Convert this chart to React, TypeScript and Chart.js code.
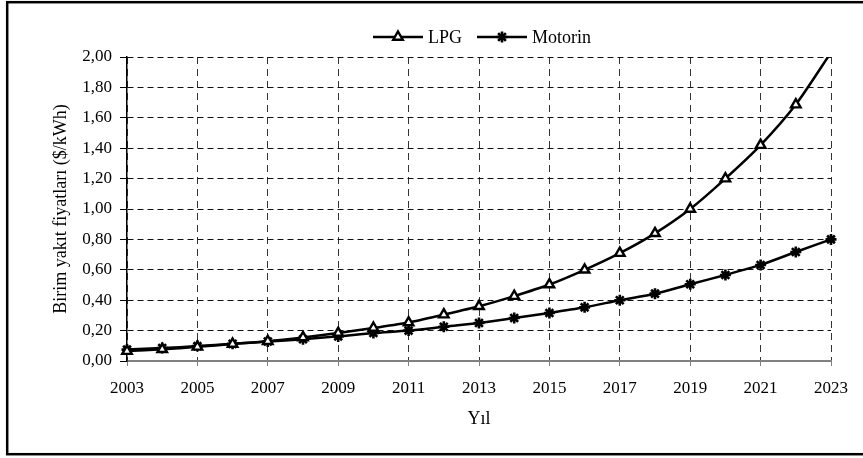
import React, { useEffect, useRef } from 'react';
import { Chart, registerables } from 'chart.js';

Chart.register(...registerables);

const years = [2003, 2004, 2005, 2006, 2007, 2008, 2009, 2010, 2011, 2012, 2013, 2014, 2015, 2016, 2017, 2018, 2019, 2020, 2021, 2022, 2023];
const lpg = [0.065, 0.077, 0.093, 0.112, 0.13, 0.155, 0.184, 0.217, 0.253, 0.305, 0.36, 0.427, 0.503, 0.6, 0.71, 0.84, 1.0, 1.2, 1.42, 1.687, 2.03];
const motorin = [0.075, 0.085, 0.098, 0.113, 0.128, 0.143, 0.162, 0.184, 0.2, 0.225, 0.25, 0.283, 0.316, 0.353, 0.4, 0.443, 0.505, 0.566, 0.632, 0.717, 0.8];
const seriesNames = ['LPG', 'Motorin'];
const xTitle = 'Yıl';
const yTitle = 'Birim yakıt fiyatları ($/kWh)';
const yMin = 0;
const yMax = 2;
const yStep = 0.2;
const xStep = 2;

const FONT = "'Liberation Serif', 'Times New Roman', serif";

function drawMarker(ctx: CanvasRenderingContext2D, style: string, x: number, y: number, r: number, bw: number) {
  ctx.save();
  ctx.strokeStyle = '#000';
  ctx.lineWidth = bw;
  if (style === 'triangle') {
    ctx.fillStyle = '#fff';
    ctx.beginPath();
    ctx.moveTo(x, y - r);
    ctx.lineTo(x + r * 0.866, y + r / 2);
    ctx.lineTo(x - r * 0.866, y + r / 2);
    ctx.closePath();
    ctx.fill();
    ctx.stroke();
  } else {
    const d = r * 0.7071;
    ctx.beginPath();
    ctx.moveTo(x - r, y); ctx.lineTo(x + r, y);
    ctx.moveTo(x, y - r); ctx.lineTo(x, y + r);
    ctx.moveTo(x - d, y - d); ctx.lineTo(x + d, y + d);
    ctx.moveTo(x - d, y + d); ctx.lineTo(x + d, y - d);
    ctx.stroke();
  }
  ctx.restore();
}

const framePlugin = {
  id: 'frame',
  beforeDraw(chart: any) {
    const ctx = chart.ctx;
    ctx.save();
    ctx.fillStyle = '#fff';
    ctx.fillRect(0, 0, chart.width, chart.height);
    ctx.restore();
  },
  afterDraw(chart: any) {
    const ctx = chart.ctx;
    ctx.save();
    ctx.strokeStyle = '#000';
    ctx.lineWidth = 2.5;
    ctx.strokeRect(7.2, 2.2, 880, 452);
    // legend
    ctx.font = `18px ${FONT}`;
    ctx.textBaseline = 'middle';
    ctx.textAlign = 'left';
    const cy = 37;
    const lineLen = 50;
    const gapText = 5;
    const gapItem = 15;
    const items = chart.data.datasets.map((ds: any) => ({ label: ds.label, style: ds.pointStyle, r: ds.pointRadius, bw: ds.pointBorderWidth }));
    const widths = items.map((it: any) => lineLen + gapText + ctx.measureText(it.label).width);
    const total = widths.reduce((a: number, b: number) => a + b, 0) + gapItem * (items.length - 1);
    const { left, right } = chart.chartArea;
    let x = (left + right) / 2 - total / 2 + 3;
    items.forEach((it: any, i: number) => {
      ctx.strokeStyle = '#000';
      ctx.lineWidth = 2.5;
      ctx.beginPath();
      ctx.moveTo(x, cy);
      ctx.lineTo(x + lineLen, cy);
      ctx.stroke();
      drawMarker(ctx, it.style, x + lineLen / 2, cy, it.r, it.bw);
      ctx.fillStyle = '#000';
      ctx.fillText(it.label, x + lineLen + gapText, cy + 1);
      x += widths[i] + gapItem;
    });
    ctx.restore();
  },
};

export default function App() {
  const ref = useRef<HTMLCanvasElement | null>(null);
  useEffect(() => {
    if (!ref.current) return;
    const chart = new Chart(ref.current, {
      type: 'line',
      data: {
        datasets: [
          {
            label: seriesNames[0],
            data: years.map((y, i) => ({ x: y, y: lpg[i] })),
            borderColor: '#000',
            borderWidth: 2.5,
            pointStyle: 'triangle',
            pointRadius: 5.5,
            pointBackgroundColor: '#fff',
            pointBorderColor: '#000',
            pointBorderWidth: 2.4,
            tension: 0.25,
            clip: { left: 10, right: 10, top: 0, bottom: 10 },
          },
          {
            label: seriesNames[1],
            data: years.map((y, i) => ({ x: y, y: motorin[i] })),
            borderColor: '#000',
            borderWidth: 2.5,
            pointStyle: 'star',
            pointRadius: 5.5,
            pointBackgroundColor: '#000',
            pointBorderColor: '#000',
            pointBorderWidth: 2.6,
            tension: 0.25,
            clip: { left: 10, right: 10, top: 0, bottom: 10 },
          },
        ],
      },
      options: {
        responsive: false,
        animation: false,
        devicePixelRatio: 1,
        layout: { padding: { top: 57, left: 0, right: 32, bottom: 0 } },
        plugins: {
          legend: { display: false },
          tooltip: { enabled: false },
        },
        scales: {
          x: {
            type: 'linear',
            min: years[0],
            max: years[years.length - 1],
            afterFit: (s: any) => { s.height = 97; },
            ticks: {
              stepSize: xStep,
              callback: (v: any) => String(v),
              font: { family: FONT, size: 17 },
              color: '#000',
              padding: 12,
              maxRotation: 0,
            },
            grid: {
              color: '#333',
              lineWidth: 1,
              tickColor: '#808080',
              tickLength: 5,
              tickBorderDash: [],
            },
            border: { color: '#808080', width: 2, dash: [7, 5] },
            title: {
              display: true,
              text: xTitle,
              color: '#000',
              font: { family: FONT, size: 18 },
              padding: { top: 0, bottom: 28 },
            },
          },
          y: {
            min: yMin,
            max: yMax,
            afterFit: (s: any) => { s.width = 127; },
            ticks: {
              stepSize: yStep,
              callback: (v: any) => Number(v).toFixed(2).replace('.', ','),
              font: { family: FONT, size: 17 },
              color: '#000',
              padding: 8,
            },
            grid: {
              color: '#111',
              lineWidth: 1,
              tickColor: '#000',
              tickLength: 7,
              tickBorderDash: [],
            },
            border: { color: '#000', width: 1.5, dash: [6, 4] },
            title: {
              display: true,
              text: yTitle,
              color: '#000',
              font: { family: FONT, size: 18 },
              padding: { top: 50, bottom: 0 },
            },
          },
        },
      },
      plugins: [framePlugin],
    } as any);
    return () => chart.destroy();
  }, []);
  return (
    <div style={{ position: 'fixed', left: 0, top: 0, width: 863, height: 458 }}>
      <canvas ref={ref} width={863} height={458} style={{ width: 863, height: 458, display: 'block' }} />
    </div>
  );
}
